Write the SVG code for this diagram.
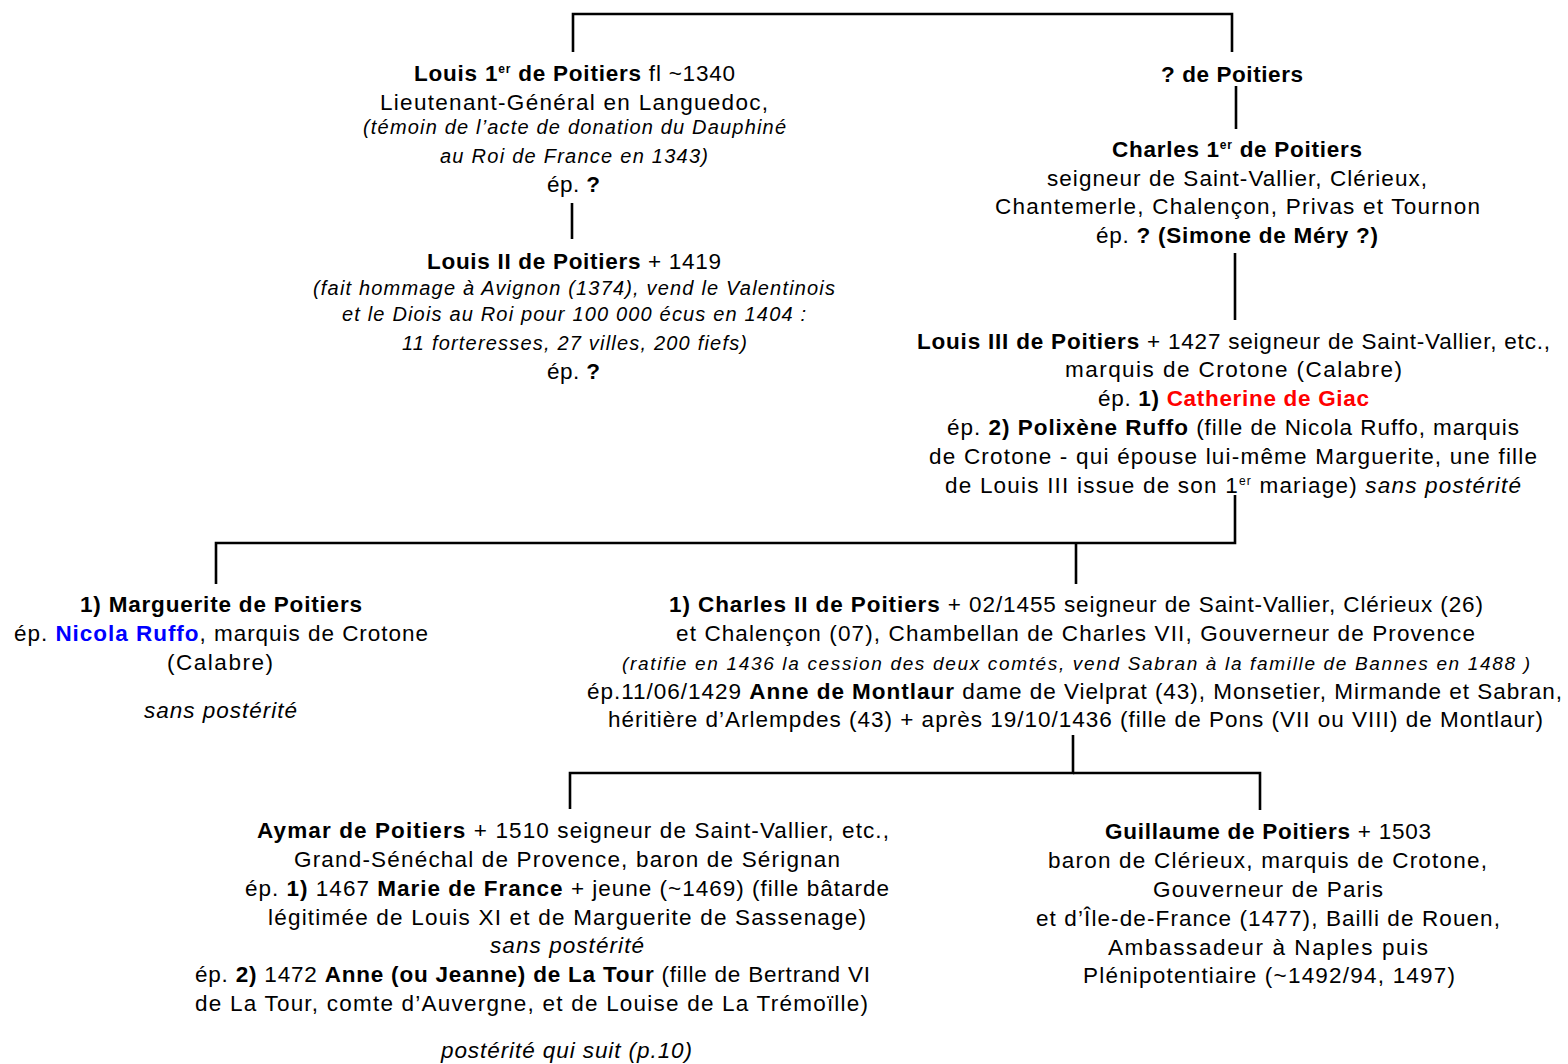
<svg xmlns="http://www.w3.org/2000/svg" width="1568" height="1064" viewBox="0 0 1568 1064">
<style>
text{font-family:"Liberation Sans",Arial,sans-serif;font-size:22.5px;fill:#000}
.it{font-style:italic;font-size:20px}
.it2{font-style:italic;font-size:19px}
.i{font-style:italic}
.b{font-weight:bold}
.sup{font-size:12px}
.red{fill:#ff0000;font-weight:bold}
.blue{fill:#0000ff;font-weight:bold}
.ln{fill:none;stroke:#000;stroke-width:2.6}
</style>
<rect width="1568" height="1064" fill="#fff"/>
<g id="connectors">
<path class="ln" d="M573,52 V14 H1232 V52"/>
<path class="ln" d="M1236,86 V129"/>
<path class="ln" d="M572,203 V239"/>
<path class="ln" d="M1235,253 V320"/>
<path class="ln" d="M1235,495 V543 H216 V584"/>
<path class="ln" d="M1076,543 V584"/>
<path class="ln" d="M1073,735 V773 H570 V809"/>
<path class="ln" d="M1073,773 H1260 V810"/>
</g>
<g id="louis1">
<text x="414" y="81" textLength="321" lengthAdjust="spacing"><tspan class="b">Louis 1</tspan><tspan class="sup b" dy="-8">er</tspan><tspan class="b" dy="8"> de Poitiers</tspan> fl ~1340</text>
<text x="380" y="110" textLength="388" lengthAdjust="spacing">Lieutenant-Général en Languedoc,</text>
<text class="it" x="363" y="134" textLength="423" lengthAdjust="spacing">(témoin de l’acte de donation du Dauphiné</text>
<text class="it" x="440" y="163" textLength="268" lengthAdjust="spacing">au Roi de France en 1343)</text>
<text x="547" y="192" textLength="53" lengthAdjust="spacing">ép. <tspan class="b">?</tspan></text>
</g>
<g id="louis2">
<text x="427" y="269" textLength="294" lengthAdjust="spacing"><tspan class="b">Louis II de Poitiers</tspan> + 1419</text>
<text class="it" x="313" y="295" textLength="522" lengthAdjust="spacing">(fait hommage à Avignon (1374), vend le Valentinois</text>
<text class="it" x="342" y="321" textLength="464" lengthAdjust="spacing">et le Diois au Roi pour 100 000 écus en 1404 :</text>
<text class="it" x="402" y="350" textLength="345" lengthAdjust="spacing">11 forteresses, 27 villes, 200 fiefs)</text>
<text x="547" y="379" textLength="53" lengthAdjust="spacing">ép. <tspan class="b">?</tspan></text>
</g>
<g id="inconnu">
<text class="b" x="1161" y="82" textLength="142" lengthAdjust="spacing">? de Poitiers</text>
</g>
<g id="charles1">
<text class="b" x="1112" y="157" textLength="250" lengthAdjust="spacing">Charles 1<tspan class="sup" dy="-8">er</tspan><tspan dy="8"> de Poitiers</tspan></text>
<text x="1047" y="186" textLength="380" lengthAdjust="spacing">seigneur de Saint-Vallier, Clérieux,</text>
<text x="995" y="214" textLength="485" lengthAdjust="spacing">Chantemerle, Chalençon, Privas et Tournon</text>
<text x="1096" y="243" textLength="282" lengthAdjust="spacing">ép. <tspan class="b">? (Simone de Méry ?)</tspan></text>
</g>
<g id="louis3">
<text x="917" y="349" textLength="633" lengthAdjust="spacing"><tspan class="b">Louis III de Poitiers</tspan> + 1427 seigneur de Saint-Vallier, etc.,</text>
<text x="1065" y="377" textLength="337" lengthAdjust="spacing">marquis de Crotone (Calabre)</text>
<text x="1098" y="406" textLength="271" lengthAdjust="spacing">ép. <tspan class="b">1) </tspan><tspan class="red">Catherine de Giac</tspan></text>
<text x="947" y="435" textLength="572" lengthAdjust="spacing">ép. <tspan class="b">2) Polixène Ruffo</tspan> (fille de Nicola Ruffo, marquis</text>
<text x="929" y="464" textLength="608" lengthAdjust="spacing">de Crotone - qui épouse lui-même Marguerite, une fille</text>
<text x="945" y="493" textLength="576" lengthAdjust="spacing">de Louis III issue de son 1<tspan class="sup" dy="-8">er</tspan><tspan dy="8"> mariage) </tspan><tspan class="i">sans postérité</tspan></text>
</g>
<g id="marguerite">
<text class="b" x="80" y="612" textLength="282" lengthAdjust="spacing">1) Marguerite de Poitiers</text>
<text x="14" y="641" textLength="414" lengthAdjust="spacing">ép. <tspan class="blue">Nicola Ruffo</tspan>, marquis de Crotone</text>
<text x="167" y="670" textLength="106" lengthAdjust="spacing">(Calabre)</text>
<text class="i" x="144" y="718" textLength="153" lengthAdjust="spacing">sans postérité</text>
</g>
<g id="charles2">
<text x="669" y="612" textLength="814" lengthAdjust="spacing"><tspan class="b">1) Charles II de Poitiers</tspan> + 02/1455 seigneur de Saint-Vallier, Clérieux (26)</text>
<text x="676" y="641" textLength="799" lengthAdjust="spacing">et Chalençon (07), Chambellan de Charles VII, Gouverneur de Provence</text>
<text class="it2" x="622" y="670" textLength="908" lengthAdjust="spacing">(ratifie en 1436 la cession des deux comtés, vend Sabran à la famille de Bannes en 1488 )</text>
<text x="587" y="699" textLength="975" lengthAdjust="spacing">ép.11/06/1429 <tspan class="b">Anne de Montlaur</tspan> dame de Vielprat (43), Monsetier, Mirmande et Sabran,</text>
<text x="608" y="727" textLength="935" lengthAdjust="spacing">héritière d’Arlempdes (43) + après 19/10/1436 (fille de Pons (VII ou VIII) de Montlaur)</text>
</g>
<g id="aymar">
<text x="257" y="838" textLength="632" lengthAdjust="spacing"><tspan class="b">Aymar de Poitiers</tspan> + 1510 seigneur de Saint-Vallier, etc.,</text>
<text x="294" y="867" textLength="546" lengthAdjust="spacing">Grand-Sénéchal de Provence, baron de Sérignan</text>
<text x="245" y="896" textLength="644" lengthAdjust="spacing">ép. <tspan class="b">1)</tspan> 1467 <tspan class="b">Marie de France</tspan> + jeune (~1469) (fille bâtarde</text>
<text x="268" y="925" textLength="598" lengthAdjust="spacing">légitimée de Louis XI et de Marguerite de Sassenage)</text>
<text class="i" x="490" y="953" textLength="154" lengthAdjust="spacing">sans postérité</text>
<text x="195" y="982" textLength="675" lengthAdjust="spacing">ép. <tspan class="b">2)</tspan> 1472 <tspan class="b">Anne (ou Jeanne) de La Tour</tspan> (fille de Bertrand VI</text>
<text x="195" y="1011" textLength="673" lengthAdjust="spacing">de La Tour, comte d’Auvergne, et de Louise de La  Trémoïlle)</text>
<text class="i" x="441" y="1058" textLength="251" lengthAdjust="spacing">postérité qui suit (p.10)</text>
</g>
<g id="guillaume">
<text x="1105" y="839" textLength="326" lengthAdjust="spacing"><tspan class="b">Guillaume de Poitiers</tspan> + 1503</text>
<text x="1048" y="868" textLength="439" lengthAdjust="spacing">baron de Clérieux, marquis de Crotone,</text>
<text x="1153" y="897" textLength="230" lengthAdjust="spacing">Gouverneur de Paris</text>
<text x="1036" y="926" textLength="464" lengthAdjust="spacing">et d’Île-de-France (1477), Bailli de Rouen,</text>
<text x="1108" y="955" textLength="320" lengthAdjust="spacing">Ambassadeur à Naples puis</text>
<text x="1083" y="983" textLength="372" lengthAdjust="spacing">Plénipotentiaire (~1492/94, 1497)</text>
</g>
</svg>
